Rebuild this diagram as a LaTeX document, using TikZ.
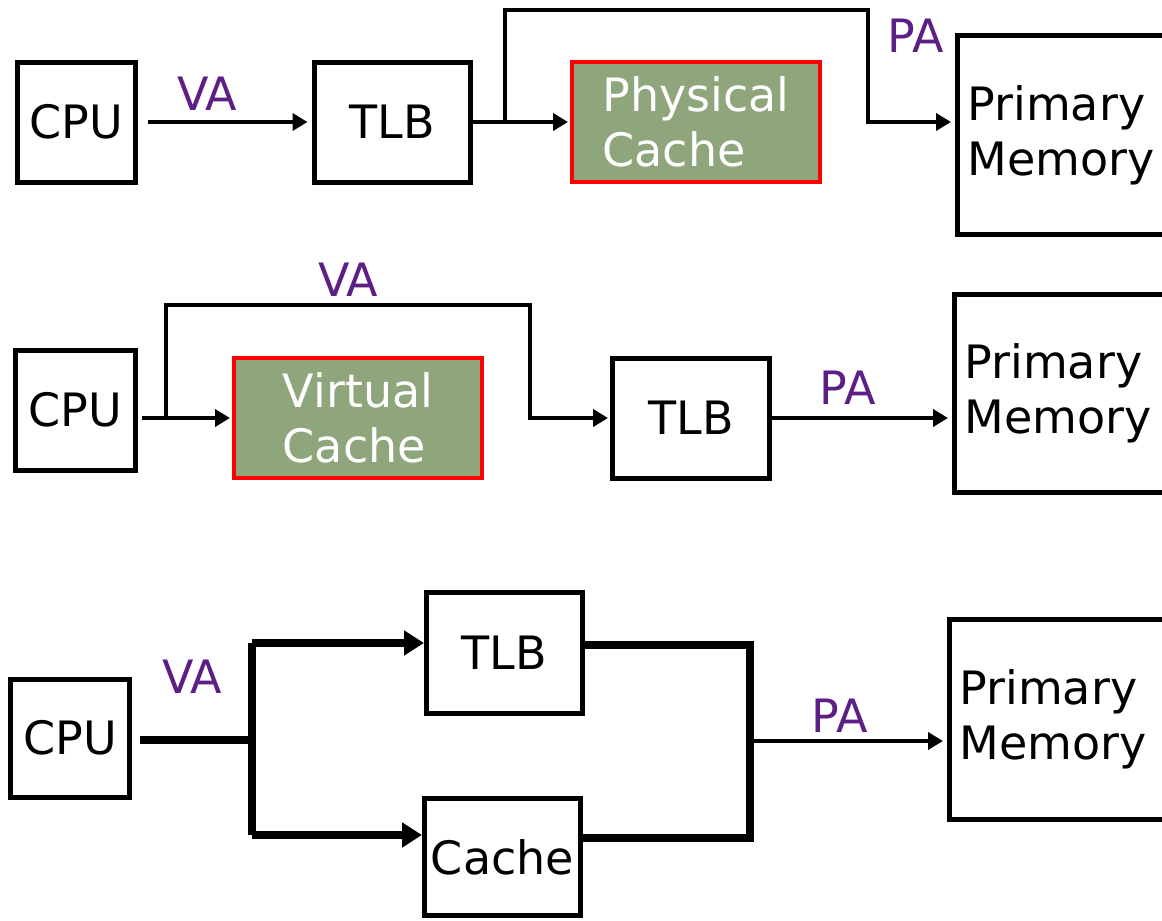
\documentclass[tikz,border=0pt]{standalone}
\usepackage{fontspec}
\setmainfont{DejaVu Sans}
\usetikzlibrary{arrows.meta}
\definecolor{addrpurple}{HTML}{5B1F85}
\definecolor{cachegreen}{HTML}{8FA57B}

\begin{document}
\begin{tikzpicture}[x=0.5pt, y=-0.5pt,
    font=\fontsize{23}{27.5}\selectfont,
    unit/.style={draw, line width=2.5pt, inner sep=0pt},
    cachebox/.style={unit, draw=red, line width=2pt, fill=cachegreen, text=white, align=left},
    memory/.style={unit, minimum width=120pt, text width=110pt, inner xsep=5pt, align=left},
    addr/.style={text=addrpurple},
    bus/.style={line width=2pt, >={Triangle[length=7.5pt, width=8.5pt]}},
    widebus/.style={line width=4pt, >={Triangle[length=10pt, width=12pt]}}]
  \useasboundingbox (0,0) rectangle (1162,921);
  \clip (0,0) rectangle (1162,921);

  % physically addressed cache
  \node[unit, minimum width=59pt, minimum height=60pt] (cpu1) at (76,122) {CPU};
  \node[unit, minimum width=78pt, minimum height=60pt] (tlb1) at (392,122) {TLB};
  \node[cachebox, minimum width=124pt, minimum height=60pt] (pcache) at (696,122) {Physical\\Cache};
  \node[memory, minimum height=99.5pt] (mem1) at (1077.5,135) {Primary\\Memory};
  \coordinate (split1) at (505,122);
  \coordinate (bend1) at (868,10);
  \draw[bus, ->, shorten <=5pt, shorten >=2pt] (cpu1) -- node[addr, above, pos=0.4, inner sep=5pt] {VA} (tlb1);
  \draw[bus, ->, shorten >=1pt] (tlb1) -- (pcache);
  \draw[bus, ->, shorten >=2pt] (split1) |- (bend1) |- (split1 -| mem1.west);
  \node[addr, anchor=west, inner sep=2pt] (pa1) at (883,36) {PA};

  % virtually addressed cache
  \node[unit, minimum width=60pt, minimum height=60pt] (cpu2) at (75,410) {CPU};
  \node[cachebox, minimum width=124pt, minimum height=60pt] (vcache) at (358,418) {Virtual\\Cache};
  \node[unit, minimum width=78.5pt, minimum height=60pt] (tlb2) at (691,418) {TLB};
  \node[memory, minimum height=99pt] (mem2) at (1074.5,393.5) {Primary\\Memory};
  \coordinate (split2) at (166,418);
  \coordinate (bend2) at (530,305);
  \draw[bus, ->, shorten <=2pt, shorten >=1pt] (cpu2.east |- vcache) -- (vcache);
  \draw[bus, ->, shorten >=1pt] (split2) |- node[addr, pos=0.75, above, inner sep=3.5pt] {VA} (bend2) |- (tlb2);
  \draw[bus, ->, shorten >=2pt] (tlb2) -- node[addr, above, pos=0.42, inner sep=6pt] {PA} (tlb2 -| mem2.west);

  % parallel TLB and cache
  \node[unit, minimum width=59.5pt, minimum height=59pt] (cpu3) at (70,738) {CPU};
  \node[unit, minimum width=78pt, minimum height=60.5pt] (tlb3) at (504.5,653) {TLB};
  \node[unit, minimum width=78pt, minimum height=58.5pt] (cache3) at (502.5,857) {Cache};
  \node[memory, minimum height=100pt] (mem3) at (1069.5,719.5) {Primary\\Memory};
  \coordinate (fork) at (252,740);
  \coordinate (tlbin) at (252,643);
  \coordinate (cachein) at (252,835);
  \coordinate (tlbout) at (750,645);
  \coordinate (cacheout) at (750,838);
  \coordinate (join) at (752,741);
  \draw[widebus, shorten <=4pt] (cpu3.east |- fork) -- node[addr, above=18pt] {VA} (fork);
  \draw[widebus] (tlbin) -- (cachein);
  \draw[widebus, ->] (tlbin) -- (tlbin -| tlb3.west);
  \draw[widebus, ->] (cachein) -- (cachein -| cache3.west);
  \draw[widebus] (tlbout -| tlb3.east) -- (tlbout) -- (cacheout) -- (cacheout -| cache3.east);
  \draw[bus, ->, shorten >=2pt] (join) -- node[addr, above, pos=0.45, inner sep=3.5pt] {PA} (join -| mem3.west);
\end{tikzpicture}
\end{document}
